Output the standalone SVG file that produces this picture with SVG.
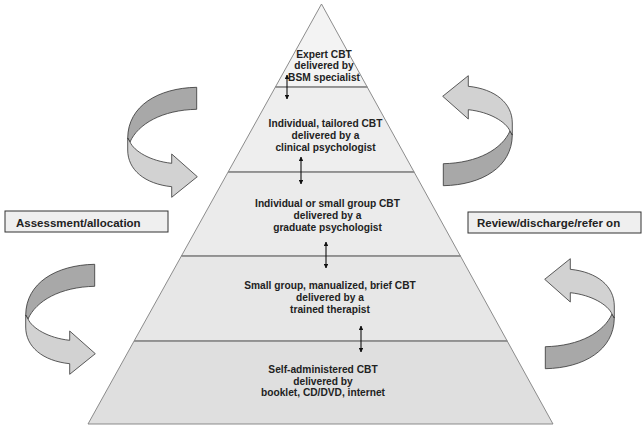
<svg xmlns="http://www.w3.org/2000/svg" width="644" height="430" viewBox="0 0 644 430">
<style>
.layer{stroke:#808080;stroke-width:0.9}
.div{stroke:#8c8c8c;stroke-width:1.6;fill:none}
.t{font-family:"Liberation Sans",Arial,sans-serif;font-weight:bold;font-size:10.2px;fill:#222;text-anchor:middle}
.lbl{font-family:"Liberation Sans",Arial,sans-serif;font-weight:bold;font-size:11.5px;fill:#222}
.box{fill:#efefef;stroke:#333;stroke-width:1}
.dark{fill:#a8a8a8;stroke:#333;stroke-width:0.8;stroke-linejoin:round}
.light{fill:#d2d2d2;stroke:#333;stroke-width:0.8;stroke-linejoin:round}
.dbl{stroke:#111;stroke-width:1.1;fill:none;marker-start:url(#ah);marker-end:url(#ah)}
</style>
<defs>
<marker id="ah" viewBox="0 0 10 10" refX="9" refY="5" markerWidth="4.5" markerHeight="4.5" orient="auto-start-reverse" markerUnits="userSpaceOnUse">
<path d="M0,0 L10,5 L0,10 Z" fill="#111"/>
</marker>
<g id="curl">
<path class="dark" d="M196.7,87.3 C158,88 128,106 127.7,138 L130,142 C138,124 162,110 196.7,109.3 Z"/>
<path class="light" d="M130,142 C134,151 150,161 171.7,163.3 L171.7,154 L197.3,176.7 L171.7,197.3 L171.7,186.7 C145,184 127.7,170 127.7,150 L127.7,138 Z"/>
</g>
</defs>
<rect width="644" height="430" fill="#fff"/>
<g id="pyramid">
<g id="level1"><polygon class="layer" fill="#f3f3f3" points="321.5,4 367.2,87 275.4,87"/>
<text class="t" x="324" y="57.5">Expert CBT</text><text class="t" x="324" y="69">delivered by</text><text class="t" x="324" y="80.5">BSM specialist</text></g>
<g id="level2"><polygon class="layer" fill="#eeeeee" points="275.4,87 367.2,87 414.1,172 228.1,172"/>
<text class="t" x="325.5" y="127">Individual, tailored CBT</text><text class="t" x="325.5" y="139">delivered by a</text><text class="t" x="325.5" y="151">clinical psychologist</text></g>
<g id="level3"><polygon class="layer" fill="#ebebeb" points="228.1,172 414.1,172 460.4,256 181.4,256"/>
<text class="t" x="327.5" y="207">Individual or small group CBT</text><text class="t" x="327.5" y="219">delivered by a</text><text class="t" x="327.5" y="231">graduate psychologist</text></g>
<g id="level4"><polygon class="layer" fill="#e7e7e7" points="181.4,256 460.4,256 507.2,341 134.1,341"/>
<text class="t" x="330" y="289">Small group, manualized, brief CBT</text><text class="t" x="330" y="301">delivered by a</text><text class="t" x="330" y="312.5">trained therapist</text></g>
<g id="level5"><polygon class="layer" fill="#dfdfdf" points="134.1,341 507.2,341 553,424 88,424"/>
<text class="t" x="323" y="373">Self-administered CBT</text><text class="t" x="323" y="384.5">delivered by</text><text class="t" x="323" y="396">booklet, CD/DVD, internet</text></g>
<g id="dividers">
<line class="div" x1="275.4" y1="87" x2="367.2" y2="87"/>
<line class="div" x1="228.1" y1="172" x2="414.1" y2="172"/>
<line class="div" x1="181.4" y1="256" x2="460.4" y2="256"/>
<line class="div" x1="134.1" y1="341" x2="507.2" y2="341"/>
</g>
</g>
<g id="connectors">
<line class="dbl" x1="287" y1="75" x2="287" y2="99"/>
<line class="dbl" x1="301" y1="157" x2="301" y2="184"/>
<line class="dbl" x1="326" y1="242" x2="326" y2="268"/>
<line class="dbl" x1="361" y1="326" x2="361" y2="352"/>
</g>
<g id="curl-upper-left"><use href="#curl"/></g>
<g id="curl-lower-left"><use href="#curl" transform="translate(-102,177)"/></g>
<g id="curl-upper-right"><use href="#curl" transform="matrix(-1,0,0,-1,640,273)"/></g>
<g id="curl-lower-right"><use href="#curl" transform="matrix(-1,0,0,-1,742,456)"/></g>
<g id="assessment"><rect class="box" x="5" y="211" width="163" height="21"/><text class="lbl" x="16" y="227">Assessment/allocation</text></g>
<g id="review"><rect class="box" x="468" y="212" width="173" height="21"/><text class="lbl" x="477" y="227">Review/discharge/refer on</text></g>
</svg>
